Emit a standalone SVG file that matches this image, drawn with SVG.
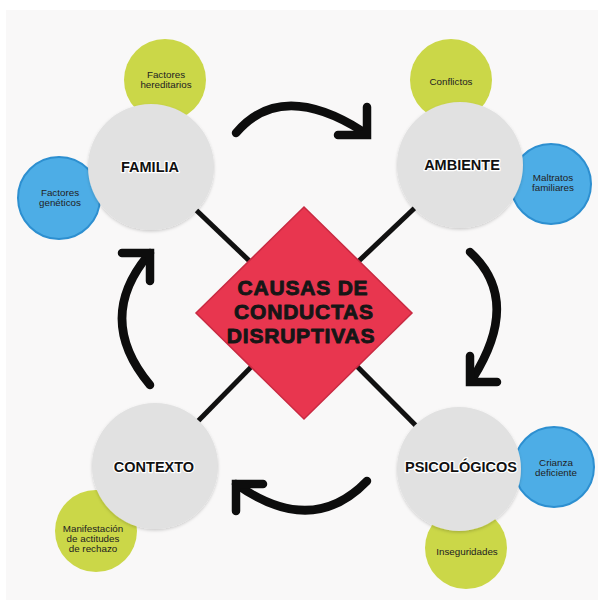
<svg xmlns="http://www.w3.org/2000/svg" width="606" height="611" viewBox="0 0 606 611">
<defs>
<style>
.main{fill:#e1e1e1;}
.green{fill:#cbd748;}
.blue{fill:#4dade6;stroke:#2d8fd0;stroke-width:2;}
.sub{font-family:"Liberation Sans",Arial,sans-serif;font-size:9.8px;fill:#222;text-anchor:middle;}
.lbl{font-family:"Liberation Sans",Arial,sans-serif;font-weight:bold;font-size:14.5px;fill:#111;text-anchor:middle;stroke:#fff;stroke-width:2.5;paint-order:stroke;stroke-linejoin:round;}
.ctr{font-family:"Liberation Sans",Arial,sans-serif;font-weight:bold;font-size:21px;letter-spacing:0.8px;fill:#161616;text-anchor:middle;stroke:#161616;stroke-width:0.9;stroke-linejoin:round;}
.conn{stroke:#111;stroke-width:5;fill:none;}
.arc{stroke:#0d0d0d;stroke-width:8.5;fill:none;stroke-linecap:round;}
.head{stroke:#0d0d0d;stroke-width:8.5;fill:none;stroke-linecap:round;stroke-linejoin:miter;}
</style>
<filter id="sh" x="-20%" y="-20%" width="140%" height="140%">
<feDropShadow dx="0" dy="1.5" stdDeviation="1.5" flood-color="#000" flood-opacity="0.18"/>
</filter>
</defs>
<rect x="0" y="0" width="606" height="611" fill="#ffffff"/>
<rect x="6" y="10" width="592" height="590" fill="#f9f8f8"/>

<g id="connectors">
<line class="conn" x1="151" y1="167" x2="304" y2="313"/>
<line class="conn" x1="460" y1="165" x2="304" y2="313"/>
<line class="conn" x1="155" y1="465" x2="304" y2="313"/>
<line class="conn" x1="459" y1="469" x2="304" y2="313"/>
<path class="arc" d="M236,133 Q281,80 362,131"/>
<path class="head" d="M338,135 L367,135 L367,107"/>
<path class="arc" d="M470,252 Q522,300 473,378"/>
<path class="head" d="M470,356 L470,382 L497,382"/>
<path class="arc" d="M367,481 Q312,538 236,484"/>
<path class="head" d="M263,484 L236,484 L236,511"/>
<path class="arc" d="M150,385 Q94,318 150,253"/>
<path class="head" d="M122,253 L150,253 L150,281"/>
</g>

<g id="center">
<polygon points="304,207 412,313 304,419 196,313" fill="#e8364f" stroke="#c92a42" stroke-width="1.5"/>
<text class="ctr" x="303" y="295">CAUSAS DE</text>
<text class="ctr" x="304" y="319">CONDUCTAS</text>
<text class="ctr" x="301" y="343">DISRUPTIVAS</text>
</g>

<g id="familia">
<circle class="green" cx="165" cy="80" r="41"/>
<text class="sub" x="166" y="78">Factores</text>
<text class="sub" x="166" y="88">hereditarios</text>
<circle class="blue" cx="59" cy="198" r="41"/>
<text class="sub" x="60" y="196">Factores</text>
<text class="sub" x="60" y="206">genéticos</text>
<circle class="main" cx="151" cy="167" r="63" filter="url(#sh)"/>
<text class="lbl" x="150" y="172">FAMILIA</text>
</g>

<g id="ambiente">
<circle class="green" cx="451" cy="80" r="41"/>
<text class="sub" x="451" y="85">Conflictos</text>
<circle class="blue" cx="551" cy="184" r="40"/>
<text class="sub" x="553" y="181">Maltratos</text>
<text class="sub" x="553" y="191">familiares</text>
<circle class="main" cx="460" cy="165" r="63" filter="url(#sh)"/>
<text class="lbl" x="462" y="170">AMBIENTE</text>
</g>

<g id="contexto">
<circle class="green" cx="96" cy="531" r="41"/>
<text class="sub" x="93" y="532">Manifestación</text>
<text class="sub" x="93" y="542">de actitudes</text>
<text class="sub" x="93" y="552">de rechazo</text>
<circle class="main" cx="155" cy="466" r="63" filter="url(#sh)"/>
<text class="lbl" x="154" y="472">CONTEXTO</text>
</g>

<g id="psicologicos">
<circle class="blue" cx="554" cy="467" r="40"/>
<text class="sub" x="556" y="466">Crianza</text>
<text class="sub" x="556" y="476">deficiente</text>
<circle class="green" cx="466" cy="548" r="41"/>
<text class="sub" x="467" y="555">Inseguridades</text>
<circle class="main" cx="459" cy="469" r="62" filter="url(#sh)"/>
<text class="lbl" x="461" y="472">PSICOLÓGICOS</text>
</g>
</svg>
